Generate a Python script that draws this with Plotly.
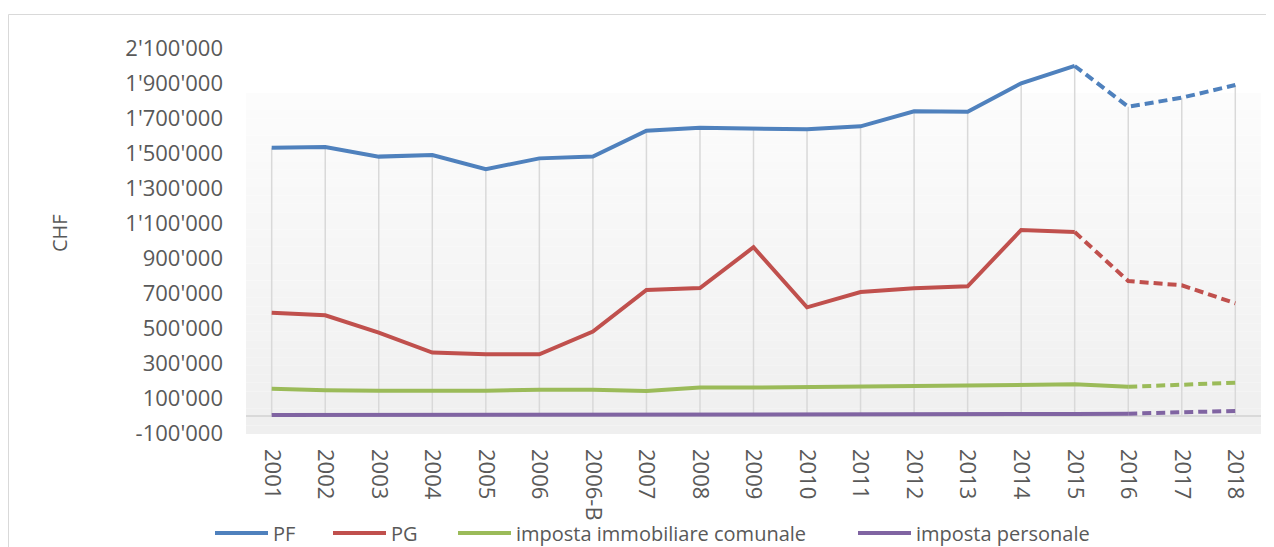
import plotly.graph_objects as go

# ---------------- data ----------------
categories = ["2001", "2002", "2003", "2004", "2005", "2006", "2006-B", "2007", "2008",
              "2009", "2010", "2011", "2012", "2013", "2014", "2015", "2016", "2017", "2018"]
pf = [1532000, 1536000, 1481000, 1490000, 1409000, 1471000, 1481000, 1629000, 1646000,
      1639000, 1637000, 1654000, 1740000, 1738000, 1900000, 1999000, 1766000, 1818000, 1890000]
pg = [589000, 574000, 475000, 361000, 351000, 351000, 481000, 719000, 730000,
      963000, 620000, 707000, 729000, 740000, 1062000, 1050000, 770000, 746000, 643000]
imposta_immobiliare = [155000, 146000, 143000, 143000, 143000, 149000, 149000, 142000, 161000,
                       161000, 165000, 169000, 169000, 172000, 178000, 180000, 166000, 176000, 189000]
imposta_personale = [5000, 5000, 5000, 5000, 6000, 6000, 6000, 6000, 7000,
                     7000, 7000, 7500, 8000, 8000, 9000, 10000, 12000, 22000, 28000]
series_names = ["PF", "PG", "imposta immobiliare comunale", "imposta personale"]
series_values = [pf, pg, imposta_immobiliare, imposta_personale]
dash_from = [15, 15, 16, 16]   # index where the dashed (forecast) part starts

y_tickvals = [-100000, 100000, 300000, 500000, 700000, 900000, 1100000,
              1300000, 1500000, 1700000, 1900000, 2100000]
y_ticktext = ["-100'000", "100'000", "300'000", "500'000", "700'000", "900'000", "1'100'000",
              "1'300'000", "1'500'000", "1'700'000", "1'900'000", "2'100'000"]
y_title = "CHF"

# ---------------- styling ----------------
colors = ["#4F81BD", "#C0504D", "#9BBB59", "#8064A2"]
OFF = 8                                   # default page body margin
W, H = 1274 - OFF, 547 - OFF
# plot area in page pixels
PL, PR, PT, PB = 246, 1261, 48, 434
L, R, T, B = PL - OFF, PR - OFF, PT - OFF, PB - OFF
TXT = "#595959"
FONT = "Open Sans"


def px_x(p):            # page pixel -> paper x
    return (p - OFF - L) / (R - L)


def px_y(p):            # page pixel -> paper y
    return (B - (p - OFF)) / (B - T)


fig = go.Figure()

# drop lines (from category axis to the highest series)
dx, dy = [], []
for c, v in zip(categories, pf):
    dx += [c, c, None]
    dy += [0, v, None]
fig.add_trace(go.Scatter(x=dx, y=dy, mode="lines", line=dict(color="#D9D9D9", width=1.5),
                         hoverinfo="skip", showlegend=False))

for name, vals, col, k in zip(series_names, series_values, colors, dash_from):
    fig.add_trace(go.Scatter(x=categories[:k + 1], y=vals[:k + 1], mode="lines", name=name,
                             line=dict(color=col, width=4), showlegend=False))
    fig.add_trace(go.Scatter(x=categories[k:], y=vals[k:], mode="lines", name=name,
                             line=dict(color=col, width=4, dash="9px,5px"), showlegend=False))

shapes = []
# gradient plot-area background
top_px, n = 93, 40
for i in range(n):
    y0 = top_px + (PB - top_px) * i / n
    y1 = top_px + (PB - top_px) * (i + 1) / n
    t = (i + 0.5) / n
    g = round(252 - (252 - 239) * t)
    shapes.append(dict(type="rect", xref="paper", yref="paper", layer="below",
                       x0=0, x1=1, y0=px_y(y1), y1=px_y(y0),
                       fillcolor=f"rgb({g},{g},{g})", line=dict(width=0)))
# outer chart border
shapes.append(dict(type="rect", xref="paper", yref="paper", layer="below",
                   x0=px_x(8.5), x1=px_x(1290), y0=px_y(570), y1=px_y(14.5),
                   line=dict(color="#D9D9D9", width=1), fillcolor="rgba(0,0,0,0)"))

# manual legend
legend_pos = [(215, 268), (333, 386), (458, 511), (858, 911)]
leg_y = 533
annotations = []
for name, col, (a, b) in zip(series_names, colors, legend_pos):
    shapes.append(dict(type="line", xref="paper", yref="paper", x0=px_x(a), x1=px_x(b),
                       y0=px_y(leg_y), y1=px_y(leg_y), line=dict(color=col, width=4)))
    annotations.append(dict(xref="paper", yref="paper", x=px_x(b + 3), y=px_y(leg_y),
                            xanchor="left", yanchor="middle", text=name, showarrow=False,
                            font=dict(family=FONT, size=20, color=TXT)))

annotations.append(dict(xref="paper", yref="paper", x=px_x(59), y=px_y(233),
                        xanchor="center", yanchor="middle", text=y_title, textangle=-90,
                        showarrow=False, font=dict(family=FONT, size=20, color=TXT)))

fig.update_layout(
    width=W, height=H,
    margin=dict(l=L, r=W - R, t=T, b=H - B, pad=0),
    paper_bgcolor="white", plot_bgcolor="rgba(0,0,0,0)",
    shapes=shapes, annotations=annotations, showlegend=False,
    xaxis=dict(type="category", range=[-0.48, 18.48], showgrid=False, showline=False,
               ticks="", tickangle=90, ticklabelstandoff=14,
               tickfont=dict(family=FONT, size=22, color=TXT)),
    yaxis=dict(range=[-104000, 2101700], tickvals=y_tickvals, ticktext=y_ticktext,
               showgrid=False, zeroline=True, zerolinecolor="#D9D9D9", zerolinewidth=1.5,
               showline=False, ticks="", ticklabelstandoff=22,
               tickfont=dict(family=FONT, size=22, color=TXT)),
)

fig.write_html("out.html")
